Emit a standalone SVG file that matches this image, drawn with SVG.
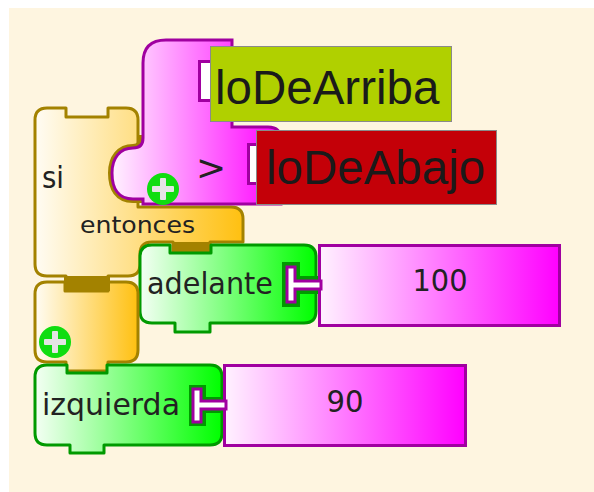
<svg xmlns="http://www.w3.org/2000/svg" width="594" height="492" viewBox="0 0 594 492">
<defs>
<linearGradient id="gy" x1="0" y1="0" x2="1" y2="0"><stop offset="0" stop-color="#fffcf4"/><stop offset="1" stop-color="#ffc010"/></linearGradient>
<linearGradient id="gg" x1="0" y1="0" x2="1" y2="0"><stop offset="0" stop-color="#f4fff4"/><stop offset="1" stop-color="#00ff00"/></linearGradient>
<linearGradient id="gp" x1="0" y1="0" x2="1" y2="0"><stop offset="0" stop-color="#fff2ff"/><stop offset="1" stop-color="#ff00ff"/></linearGradient>
<style>
.y{fill:url(#gy);stroke:#a38200;stroke-width:3;stroke-linejoin:round}
.g{fill:url(#gg);stroke:#009a00;stroke-width:3;stroke-linejoin:round}
.p{fill:url(#gp);stroke:#a000a0;stroke-width:3;stroke-linejoin:miter}
.hole{fill:#009a00}
.plug{fill:#ffffff;stroke:#a000a0;stroke-width:3}
.slot{fill:#ffffff;stroke:#a000a0;stroke-width:3}
.tab{fill:#a38200}
.lbl{font-family:"DejaVu Sans",sans-serif;fill:#222222}
.var{font-family:"Liberation Sans",Arial,sans-serif;font-size:47.5px;fill:#1a1a1a}
.plusc{fill:#10dd10}
.pluss{fill:#e4e4e4}
</style>
</defs>
<rect x="9" y="8" width="585" height="484" fill="#fef5e0"/>

<g id="si">
<path class="y" d="M47,108 L66,108 L66,117 L108,117 L108,108 L126,108 Q138,108 138,120 L138,207 L231,207 Q243,207 243,219 L243,242 L210,242 L210,252 L173,252 L173,242 L152,242 Q140,242 140,254 L140,264 Q140,276 128,276 L108,276 L108,288 L66,288 L66,276 L47,276 Q35,276 35,264 L35,120 Q35,108 47,108 Z"/>
<rect class="tab" x="172" y="242" width="39" height="11"/>
<text class="lbl" x="42" y="188" font-size="30" textLength="22" lengthAdjust="spacingAndGlyphs">si</text>
<text class="lbl" x="80" y="233" font-size="23" textLength="115" lengthAdjust="spacingAndGlyphs">entonces</text>
</g>

<g id="comparacion">
<path d="M143,135 Q143,148 133,148 C120,148 112,158 112,173 C112,188 118,199 133,199 L143,199" fill="none" stroke="#a38200" stroke-width="8"/>
<path class="p" d="M143,63 Q143,40 166,40 L232,40 L232,127 L268,127 Q281,127 281,140 L281,204 L143,204 L143,199 L133,199 C118,199 112,188 112,173 C112,158 120,148 133,148 Q143,148 143,138 Z"/>
<rect class="slot" x="199.5" y="61.5" width="12" height="39"/>
<rect class="slot" x="248.5" y="144.5" width="10" height="39"/>
<text class="lbl" x="196" y="180" font-size="36">&gt;</text>
</g>

<g id="loDeArriba">
<rect x="210.5" y="46.5" width="241" height="75" fill="#b0d000" stroke="#8a8a8a" stroke-width="1"/>
<text class="var" x="215" y="104">loDeArriba</text>
</g>

<g id="loDeAbajo">
<rect x="256.5" y="130.5" width="240" height="74" fill="#c40008" stroke="#8a8a8a" stroke-width="1"/>
<text class="var" x="266" y="184">loDeAbajo</text>
</g>

<g id="mas1">
<circle class="plusc" cx="163" cy="189" r="16"/>
<rect class="pluss" x="152" y="186" width="22" height="6" rx="1"/>
<rect class="pluss" x="160" y="178" width="6" height="22" rx="1"/>
</g>

<g id="adelante">
<path class="g" d="M152,245 L170,245 L170,253 L211,253 L211,245 L304,245 Q316,245 316,257 L316,311 Q316,323 304,323 L210,323 L210,332 L175,332 L175,323 L152,323 Q140,323 140,311 L140,257 Q140,245 152,245 Z"/>
<path class="hole" d="M282,262 L300,262 L300,276 L318,276 L318,294 L300,294 L300,307 L282,307 Z"/>
<text class="lbl" x="147" y="294" font-size="30" textLength="126" lengthAdjust="spacingAndGlyphs">adelante</text>
</g>

<g id="num100">
<rect class="p" x="319.5" y="245.5" width="240" height="80"/>
<path class="plug" d="M287,267 L295,267 L295,281 L321,281 L321,289 L295,289 L295,302 L287,302 Z"/>
<text class="lbl" x="440" y="291" font-size="31" text-anchor="middle" textLength="55" lengthAdjust="spacingAndGlyphs">100</text>
</g>

<g id="sino">
<path class="y" d="M47,282 L65,282 L65,291 L108,291 L108,282 L126,282 Q138,282 138,294 L138,350 Q138,362 126,362 L108,362 L108,371 L66,371 L66,362 L47,362 Q35,362 35,350 L35,294 Q35,282 47,282 Z"/>
<rect class="tab" x="64" y="276" width="46" height="15"/>
<circle class="plusc" cx="55" cy="342" r="16"/>
<rect class="pluss" x="44" y="339" width="22" height="6" rx="1"/>
<rect class="pluss" x="52" y="331" width="6" height="22" rx="1"/>
</g>

<g id="izquierda">
<path class="g" d="M47,365 L67,365 L67,373 L107,373 L107,365 L210,365 Q222,365 222,377 L222,433 Q222,445 210,445 L104,445 L104,453 L70,453 L70,445 L47,445 Q35,445 35,433 L35,377 Q35,365 47,365 Z"/>
<path class="hole" d="M189,385 L206,385 L206,397 L224,397 L224,413 L206,413 L206,426 L189,426 Z"/>
<text class="lbl" x="42" y="415" font-size="30" textLength="138" lengthAdjust="spacingAndGlyphs">izquierda</text>
</g>

<g id="num90">
<rect class="p" x="224.5" y="365.5" width="241" height="80"/>
<path class="plug" d="M193,389 L201,389 L201,401 L226,401 L226,409 L201,409 L201,422 L193,422 Z"/>
<text class="lbl" x="345" y="412" font-size="31" text-anchor="middle" textLength="37" lengthAdjust="spacingAndGlyphs">90</text>
</g>

<g id="connectors"/>
</svg>
